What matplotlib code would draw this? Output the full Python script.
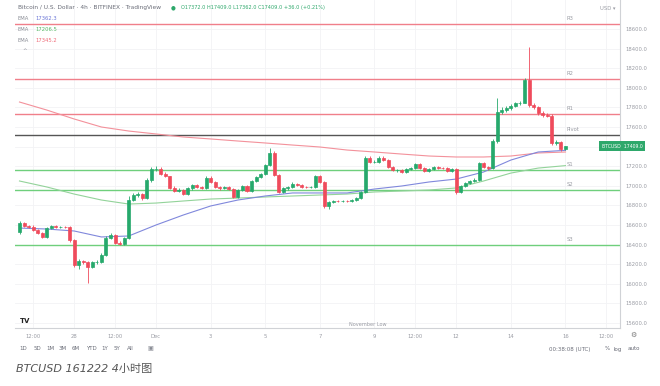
import numpy as np
import matplotlib
matplotlib.use("Agg")
import matplotlib.pyplot as plt

# 4h candles, Nov 26 00:00 -> Dec 16 00:00 (index 0..120)
opens = [16530, 16620, 16590, 16580, 16550, 16520, 16480, 16565, 16585, 16575, 16580, 16575,
         16445, 16190, 16230, 16220, 16170, 16220, 16225, 16295, 16470, 16500, 16420, 16410,
         16465, 16860, 16905, 16915, 16880, 17060, 17170, 17175, 17120, 17095, 16980, 16950,
         16960, 16920, 16975, 17005, 16990, 16980, 17080, 17040, 16985, 16975, 16985, 16970,
         16890, 16960, 17000, 16945, 17050, 17090, 17120, 17210, 17330, 17110, 16940, 16975,
         16990, 17020, 17010, 16990, 16985, 16990, 17095, 17040, 16790, 16830, 16850, 16845,
         16850, 16845, 16855, 16880, 16935, 17280, 17245, 17245, 17285, 17265, 17190, 17160,
         17160, 17140, 17170, 17185, 17220, 17180, 17150, 17170, 17190, 17185, 17180, 17150,
         17175, 16940, 16995, 17025, 17050, 17060, 17230, 17190, 17180, 17460, 17750, 17770,
         17790, 17810, 17840, 17850, 18080, 17820, 17800, 17740, 17720, 17715, 17440, 17450,
         17372]
highs = [16640, 16635, 16600, 16595, 16560, 16530, 16580, 16600, 16595, 16590, 16590, 16585,
         16460, 16250, 16245, 16230, 16235, 16240, 16310, 16490, 16520, 16510, 16440, 16480,
         16900, 16930, 16940, 16925, 17080, 17190, 17200, 17190, 17140, 17105, 16995, 16975,
         16970, 16985, 17020, 17015, 17000, 17100, 17095, 17050, 16995, 16995, 16995, 16980,
         16970, 17010, 17010, 17060, 17100, 17130, 17225, 17390, 17360, 17125, 16985, 17000,
         17035, 17030, 17020, 17000, 17000, 17110, 17110, 17050, 16840, 16860, 16860, 16860,
         16860, 16865, 16890, 16945, 17300, 17300, 17260, 17300, 17300, 17275, 17200, 17175,
         17170, 17180, 17195, 17235, 17230, 17190, 17180, 17200, 17200, 17195, 17190, 17185,
         17185, 17005, 17035, 17060, 17075, 17245, 17245, 17200, 17480, 17900, 17800, 17810,
         17830, 17855, 17870, 18100, 18420, 17850, 17815, 17760, 17740, 17730, 17470, 17460,
         17409]
lows = [16510, 16580, 16565, 16540, 16505, 16465, 16470, 16555, 16565, 16565, 16565, 16430,
        16170, 16150, 16205, 16010, 16160, 16205, 16215, 16285, 16455, 16405, 16395, 16400,
        16455, 16840, 16890, 16860, 16870, 17040, 17150, 17110, 17085, 16970, 16935, 16940,
        16910, 16905, 16960, 16980, 16965, 16970, 17030, 16975, 16960, 16965, 16960, 16875,
        16880, 16950, 16935, 16935, 17040, 17080, 17110, 17200, 17100, 16930, 16925, 16960,
        16980, 17000, 16980, 16975, 16975, 16980, 17030, 16770, 16760, 16820, 16835, 16835,
        16830, 16835, 16845, 16870, 16925, 17230, 17230, 17235, 17255, 17180, 17150, 17145,
        17130, 17130, 17160, 17175, 17170, 17140, 17140, 17160, 17175, 17170, 17140, 17140,
        16920, 16930, 16985, 17015, 17040, 17050, 17180, 17165, 17170, 17440, 17730, 17755,
        17775, 17800, 17820, 17840, 17800, 17780, 17720, 17705, 17700, 17420, 17420, 17360,
        17362]
closes = [16620, 16590, 16580, 16550, 16520, 16480, 16565, 16585, 16575, 16580, 16575, 16445,
          16190, 16230, 16220, 16170, 16220, 16225, 16295, 16470, 16500, 16420, 16410, 16465,
          16860, 16905, 16915, 16880, 17060, 17170, 17175, 17120, 17095, 16980, 16950, 16960,
          16920, 16975, 17005, 16990, 16980, 17080, 17040, 16985, 16975, 16985, 16970, 16890,
          16960, 17000, 16945, 17050, 17090, 17120, 17210, 17330, 17110, 16940, 16975, 16990,
          17020, 17010, 16990, 16985, 16990, 17095, 17040, 16790, 16830, 16850, 16845, 16850,
          16845, 16855, 16880, 16935, 17280, 17245, 17245, 17285, 17265, 17190, 17160, 17160,
          17140, 17170, 17185, 17220, 17180, 17150, 17170, 17190, 17185, 17180, 17150, 17175,
          16940, 16995, 17025, 17050, 17060, 17230, 17190, 17180, 17460, 17750, 17770, 17790,
          17810, 17840, 17850, 18080, 17820, 17800, 17740, 17720, 17715, 17440, 17450, 17380,
          17409]

# EMA values, every 6 candles (one per day)
ema_idx = [0, 6, 12, 18, 24, 30, 36, 42, 48, 54, 60, 66, 72, 78, 84, 90, 96, 102, 108, 114, 120]
ema_blue = [16569, 16559, 16539, 16478, 16488, 16600, 16702, 16794, 16855, 16896, 16927,
            16927, 16927, 16967, 16998, 17039, 17069, 17141, 17263, 17345, 17362]
ema_green = [17049, 16988, 16916, 16855, 16814, 16824, 16845, 16865, 16875, 16886, 16896,
             16906, 16916, 16937, 16947, 16957, 16978, 17049, 17130, 17181, 17206]
ema_red = [17855, 17773, 17682, 17600, 17559, 17529, 17498, 17478, 17457, 17437, 17416,
           17396, 17365, 17345, 17324, 17304, 17294, 17294, 17304, 17335, 17345]

# pivot levels
level_names = ["R3", "R2", "R1", "Pivot", "S1", "S2", "S3"]
level_values = [18650, 18090, 17733, 17518, 17161, 16957, 16396]

xtick_pos = [3, 12, 21, 30, 42, 54, 66, 78, 87, 96, 108, 120, 129]
xtick_lab = ["12:00", "28", "12:00", "Dec", "3", "5", "7", "9", "12:00", "12", "14", "16", "12:00"]
ytick_vals = list(range(15600, 18601, 200))

W, H = 660, 386
UP = "#26a96c"
DOWN = "#ef4b5c"
TXT = "#9a9ca4"


def fx(x):
    return x / W


def fy(y):
    return 1 - y / H


fig = plt.figure(figsize=(W / 100, H / 100), dpi=100)
ax = fig.add_axes([fx(15), fy(328), (620 - 15) / W, 328 / H])

# candles
idx = np.arange(len(closes))
o = np.array(opens)
c = np.array(closes)
cols = [UP if cc >= oo else DOWN for oo, cc in zip(o, c)]
ax.vlines(idx, lows, highs, colors=cols, linewidth=0.6, zorder=4)
ax.bar(idx, c - o, bottom=o, width=0.66, color=cols, edgecolor=cols, linewidth=0.5, zorder=5)

# EMAs
ax.plot(ema_idx, ema_red, color="#f3919b", lw=0.8, zorder=3)
ax.plot(ema_idx, ema_green, color="#93d39a", lw=0.8, zorder=3)
ax.plot(ema_idx, ema_blue, color="#8088dc", lw=0.8, zorder=3)

# pivot lines
for name, val in zip(level_names, level_values):
    if name.startswith("R"):
        col = "#f07f8a"
    elif name.startswith("S"):
        col = "#6fcf7c"
    else:
        col = "#555555"
    ax.axhline(val, color=col, lw=1.0, zorder=2)
    ax.text(120.3, val + 55, name, fontsize=3.8, color=TXT, va="center", ha="left", zorder=6)

ax.set_xlim(-0.99, 131.98)
ax.set_ylim(15549, 18896)

ax.set_xticks(xtick_pos)
ax.set_xticklabels(xtick_lab)
ax.set_yticks(ytick_vals)
ax.set_yticklabels(["" if v == 17400 else "%.1f" % v for v in ytick_vals])
ax.yaxis.tick_right()
ax.tick_params(axis="both", length=0, labelsize=3.8, labelcolor=TXT)
ax.tick_params(axis="x", pad=4)
ax.tick_params(axis="y", pad=4)
ax.grid(True, color="#f2f3f5", lw=0.6, zorder=0)
ax.set_axisbelow(True)
for s in ["top", "left"]:
    ax.spines[s].set_visible(False)
ax.spines["right"].set_color("#d0d2d6")
ax.spines["bottom"].set_color("#d0d2d6")
ax.spines["right"].set_linewidth(0.8)
ax.spines["bottom"].set_linewidth(0.8)

# price tag over the axis edge
fig.text(fx(601.5), fy(146), "BTCUSD  17409.0", fontsize=3.3, color="white", ha="left", va="center",
         zorder=10, bbox=dict(boxstyle="square,pad=0.6", fc="#2ea86b", ec="none"))

# header
fig.text(fx(18), fy(8), "Bitcoin / U.S. Dollar · 4h · BITFINEX · TradingView", fontsize=4.2, color="#6a6d78",
         va="center")
fig.text(fx(173), fy(8), "●", fontsize=4, color="#2ea86b", va="center", ha="center")
fig.text(fx(181), fy(8), "O17372.0 H17409.0 L17362.0 C17409.0 +36.0 (+0.21%)", fontsize=3.6, color="#2ea86b",
         va="center")
for k, (v, col) in enumerate([("17362.3", "#6d78d8"), ("17206.5", "#55b865"), ("17345.2", "#ef6b78")]):
    fig.text(fx(18), fy(19 + 10.5 * k), "EMA", fontsize=3.8, color="#8a8d96", va="center")
    fig.text(fx(35), fy(19 + 10.5 * k), v, fontsize=3.8, color=col, va="center")
fig.text(fx(22), fy(51), "^", fontsize=4, color="#8a8d96", va="center")
fig.text(fx(600), fy(8), "USD ▾", fontsize=3.8, color=TXT, va="center")

# bottom bits
fig.text(fx(25), fy(321), "TV", fontsize=5, color="#222222", fontweight="bold", va="center", ha="center")
fig.text(fx(368), fy(325), "November Low", fontsize=3.6, color=TXT, va="center", ha="center")
fig.text(fx(633), fy(335), "⚙", fontsize=5, color="#777777", va="center", ha="center")
tb = ["1D", "5D", "1M", "3M", "6M", "YTD", "1Y", "5Y", "All"]
tbx = [23, 37, 50, 63, 76, 91, 105, 117, 130]
for t, xx in zip(tb, tbx):
    fig.text(fx(xx), fy(349), t, fontsize=4, color="#6a6d78", va="center", ha="center")
fig.text(fx(150), fy(349), "▣", fontsize=4.5, color="#8a8d96", va="center", ha="center")
fig.text(fx(570), fy(349), "00:38:08 (UTC)", fontsize=4, color="#6a6d78", va="center", ha="center")
fig.text(fx(607), fy(349), "%", fontsize=4, color="#6a6d78", va="center", ha="center")
fig.text(fx(618), fy(349), "log", fontsize=4, color="#6a6d78", va="center", ha="center")
fig.text(fx(634), fy(349), "auto", fontsize=4, color="#6a6d78", va="center", ha="center")

fig.text(fx(16), fy(369), "BTCUSD 161222 4小时图", fontsize=8, color="#555555", style="italic",
         va="center", family=["DejaVu Sans", "Noto Sans CJK SC"])

fig.savefig("out.png", dpi=100)
